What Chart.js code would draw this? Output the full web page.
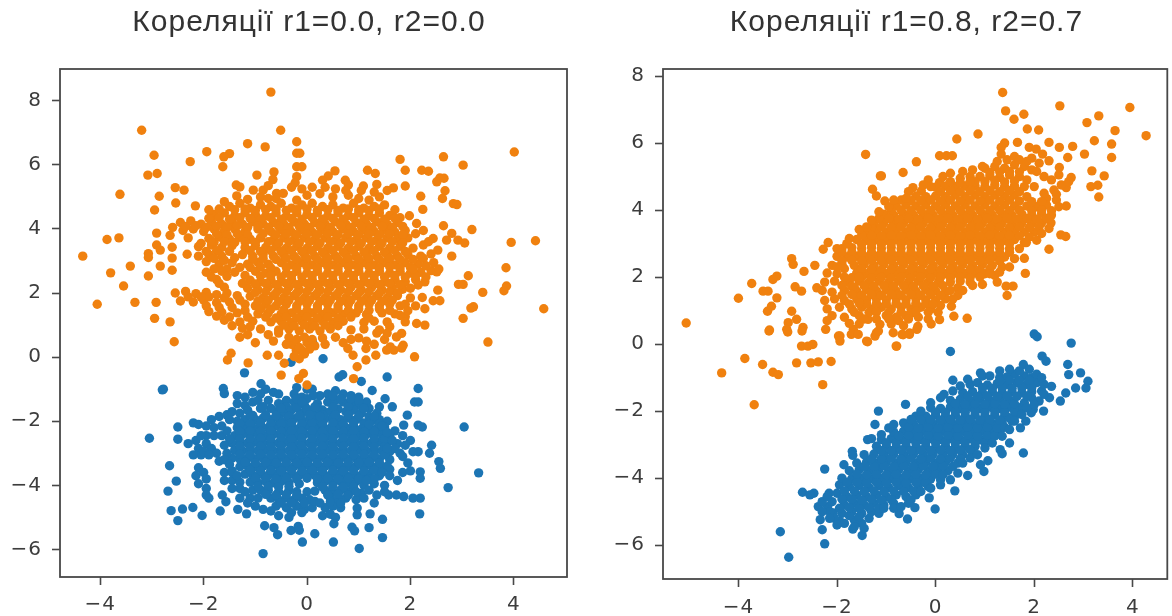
<!DOCTYPE html>
<html><head><meta charset="utf-8">
<script src="https://cdn.jsdelivr.net/npm/chart.js@4"></script>
<style>
html,body{margin:0;padding:0;background:#fff;width:1172px;height:616px;overflow:hidden}
canvas{position:absolute;top:0;filter:blur(0.6px)}
#a{left:0}#b{left:600px}
</style></head><body>
<canvas id="a" width="600" height="616"></canvas>
<canvas id="b" width="572" height="616"></canvas>
<script>
const titleLeft='Кореляції r1=0.0, r2=0.0';
const titleRight='Кореляції r1=0.8, r2=0.7';
const leftOrange=[-0.7,8.27,-3.2,7.08,-0.51,7.08,-1.15,6.66,-0.81,6.56,-0.2,6.72,-2.96,6.3,-1.94,6.41,-2.26,6.1,-1.5,6.35,-1.61,6.25,-1.63,5.94,-2.9,5.73,-3.08,5.68,-0.97,5.68,-0.64,5.78,-0.66,5.54,-3.62,5.08,-2.86,5.02,-2.55,5.29,-2.38,5.21,-2.54,4.81,-2.95,4.59,-2.16,4.72,-1.37,5.37,-1.3,5.31,-1.36,5.03,-1.04,5.21,-0.85,5.21,-0.59,5.11,-0.46,5.11,-3.87,3.67,-3.64,3.72,-4.34,3.15,-3.8,2.63,-3.42,2.84,-3.55,2.22,-4.06,1.65,-3.33,1.71,-2.92,1.71,-2.95,1.21,-2.65,1.1,-3.07,2.53,-3.07,3.23,-3.07,3.11,-2.91,3.87,-2.91,3.5,-2.84,3.34,-2.84,2.84,-2.61,2.71,-2.61,3.43,-2.61,3.09,-2.65,3.8,-2.32,3.21,
-0.2,6.36,-0.14,6.36,-0.2,5.94,-0.1,5.94,-0.2,5.63,-0.23,5.44,0.54,5.81,0.41,5.65,0.3,5.52,0.74,5.52,0.8,5.37,1.17,5.83,1.32,5.73,1.35,5.39,1.09,5.34,1.8,6.17,1.9,5.83,1.67,5.28,1.9,5.34,2.22,5.83,2.35,5.8,2.64,6.25,3.02,5.99,4.01,6.4,2.57,5.59,2.51,5.47,2.65,5.58,2.2,5.02,2.67,5.19,2.62,4.95,2.83,4.79,2.9,4.76,2.24,4.61,1.98,4.41,2.12,4.17,2.64,4.1,3.19,3.98,3.95,3.58,4.42,3.63,3.85,2.79,3.86,2.22,3.81,2.07,3.4,2.02,3.12,2.54,2.93,2.27,3.02,2.27,2.53,2.09,2.23,1.86,2.44,1.76,2.57,1.76,2.28,1.51,3.22,1.57,3.17,1.53,3.02,1.21,4.58,1.51,3.5,0.47,1.9,1.26,2.12,1.05,2.28,1,1.83,0.74,1.73,0.63,1.86,0.37,1.61,0.32,1.35,0.75,2.8,3.15,2.92,3.65,3.05,3.56,2.8,3.86,2.7,3.65,2.44,3.7,2.53,3.34,2.51,2.66,2.28,2.35,
-2.57,0.48,-1.47,0.12,-1.54,-0.09,-1.14,-0.18,-0.77,0.06,-0.55,0.06,-0.44,-0.19,-0.5,-0.56,-0.07,-0.51,-0.16,-0.67,0,-0.87,0.9,-0.67,0.97,-0.3,0.89,0.06,0.79,0.27,1.14,-0.09,1.33,0.06,1.14,0.27,1.54,0.22,1.68,0.22,1.83,0.28,2.08,0.01,-0.21,0.22,-0.11,0.22,-0.3,0.4,0.0,0.45,-0.65,0.5,-0.4,0.4,-1.0,0.45,
-0.9,5,-0.6,4.95,-0.2,4.9,0,5.05,0.25,5.1,0.5,5,0.8,5.05,1,4.95,1.2,4.9,1.4,5,
-1.5,4.7,-1.3,4.8,-1.1,4.65,-0.9,4.75,-0.7,4.7,-0.5,4.8,-0.3,4.65,-0.1,4.75,0.1,4.8,0.3,4.7,0.5,4.75,0.7,4.65,0.9,4.8,1.1,4.65,1.3,4.7,1.5,4.75,1.7,4.6,
-1.8,4.45,-1.6,4.5,-1.4,4.4,-1.2,4.5,-1,4.45,-0.8,4.4,-0.6,4.5,-0.4,4.4,-0.2,4.5,0,4.45,0.2,4.5,0.4,4.4,0.6,4.5,0.8,4.42,1,4.5,1.2,4.4,1.4,4.5,1.6,4.42,1.8,4.35,
-2.45,4.2,-2.25,4.25,-2.05,4.15,-1.85,4.22,-1.65,4.15,-1.45,4.2,-1.25,4.15,-1.05,4.22,-0.85,4.15,-0.65,4.2,-0.45,4.15,-0.25,4.22,-0.05,4.15,0.15,4.2,0.35,4.15,0.55,4.22,0.75,4.15,0.95,4.2,1.15,4.15,1.35,4.22,1.55,4.15,1.75,4.2,
-2.6,4.05,-2.4,3.95,-2.2,4,-2,3.92,-1.8,4,-1.6,3.93,-1.4,4,-1.2,3.92,-0.95,4,-0.7,3.92,-0.5,3.98,-0.3,3.9,-0.1,3.98,0.1,3.9,0.3,3.98,0.5,3.92,0.7,4,0.9,3.92,1.1,3.98,1.3,3.92,1.5,3.98,1.7,3.9,1.9,3.95,
-2.3,3.72,-1.9,3.7,-1.7,3.75,-1.5,3.68,-1.3,3.74,-1.1,3.68,-0.9,3.72,-0.65,3.66,-0.45,3.72,-0.25,3.66,-0.05,3.72,0.15,3.66,0.35,3.72,0.55,3.66,0.75,3.72,0.95,3.66,1.15,3.72,1.35,3.66,1.55,3.72,1.75,3.68,1.95,3.72,
-2.1,3.45,-1.85,3.5,-1.65,3.42,-1.45,3.48,-1.2,3.42,-1,3.48,-0.8,3.42,-0.6,3.46,-0.4,3.4,-0.2,3.46,0,3.4,0.2,3.46,0.4,3.4,0.6,3.46,0.8,3.4,1,3.46,1.2,3.4,1.4,3.46,1.6,3.4,1.8,3.46,2.05,3.4,2.25,3.5,
-1.9,3.2,-1.65,3.15,-1.25,3.2,-1.05,3.15,-0.85,3.2,-0.65,3.15,-0.45,3.2,-0.25,3.15,-0.05,3.2,0.15,3.15,0.35,3.2,0.55,3.15,0.75,3.2,0.95,3.15,1.15,3.2,1.35,3.15,1.55,3.2,1.75,3.15,1.95,3.2,2.2,3.15,2.4,3.22,
-1.95,2.98,-1.7,2.9,-1.45,2.95,-1.15,2.9,-0.95,2.96,-0.75,2.9,-0.5,2.95,-0.3,2.88,-0.1,2.95,0.1,2.88,0.3,2.95,0.5,2.88,0.7,2.95,0.9,2.88,1.1,2.95,1.3,2.88,1.5,2.95,1.7,2.88,1.9,2.95,2.15,2.9,
-1.95,2.65,-1.65,2.68,-1.4,2.65,-1,2.68,-0.8,2.62,-0.6,2.68,-0.4,2.62,-0.2,2.68,0,2.62,0.2,2.68,0.4,2.62,0.6,2.68,0.8,2.62,1,2.68,1.2,2.62,1.4,2.68,1.6,2.62,1.8,2.68,2,2.62,2.2,2.65,2.4,2.7,
-1.75,2.42,-1.1,2.4,-0.9,2.35,-0.7,2.42,-0.5,2.35,-0.3,2.42,-0.1,2.35,0.1,2.42,0.3,2.35,0.5,2.42,0.7,2.35,0.9,2.42,1.1,2.35,1.3,2.42,1.5,2.35,1.7,2.42,1.9,2.35,2.1,2.42,
-1.6,2.18,-1.15,2.15,-0.95,2.1,-0.75,2.18,-0.55,2.1,-0.35,2.18,-0.15,2.1,0.05,2.18,0.25,2.1,0.45,2.18,0.65,2.1,0.85,2.18,1.05,2.1,1.25,2.18,1.45,2.1,1.65,2.18,1.85,2.12,
-2.55,2.0,-2.35,2.05,-2.15,1.98,-1.95,2.02,-1.75,1.95,-1.55,2,-1.35,1.92,-1.1,1.9,-0.85,1.85,-0.65,1.92,-0.45,1.85,-0.25,1.92,-0.05,1.85,0.15,1.92,0.35,1.85,0.55,1.92,0.75,1.85,0.95,1.92,1.15,1.85,1.35,1.92,1.55,1.85,1.75,1.92,
-2.45,1.75,-2.2,1.72,-2,1.78,-1.75,1.7,-1.5,1.72,-1.2,1.65,-1,1.6,-0.8,1.65,-0.6,1.6,-0.4,1.65,-0.2,1.6,0,1.65,0.2,1.6,0.4,1.65,0.6,1.6,0.8,1.65,1,1.6,1.2,1.65,1.4,1.6,1.6,1.65,1.8,1.6,
-1.9,1.42,-1.65,1.4,-1.35,1.38,-0.95,1.35,-0.75,1.38,-0.5,1.35,-0.3,1.38,-0.1,1.33,0.1,1.38,0.3,1.33,0.5,1.38,0.7,1.33,0.95,1.38,1.15,1.33,1.45,1.38,1.7,1.35,
-1.6,1.15,-1.3,1.1,-1.05,1.12,-0.7,1.1,-0.5,1.12,-0.3,1.08,-0.1,1.12,0.1,1.08,0.3,1.12,0.5,1.08,0.7,1.12,1.1,1.08,1.3,1.12,1.55,1.1,
-1.25,0.9,-0.9,0.88,-0.55,0.85,-0.35,0.88,-0.15,0.82,0.05,0.88,0.25,0.82,0.45,0.88,0.85,0.85,1.1,0.88,
-0.35,0.62,-0.2,0.55,-0.05,0.62,0.1,0.55,0.3,0.6,0.55,0.62,1,0.6];
const leftOrangeFill=[-1.4,4.6,-1.2,4.62,-1,4.58,-0.8,4.6,-0.6,4.62,-0.4,4.58,-0.2,4.6,0,4.62,0.2,4.58,0.4,4.6,0.6,4.58,0.8,4.62,1,4.6,1.2,4.58,1.4,4.62,
-1.9,4.33,-1.7,4.35,-1.5,4.3,-1.3,4.35,-1.1,4.33,-0.9,4.3,-0.7,4.35,-0.5,4.3,-0.3,4.33,-0.1,4.3,0.1,4.35,0.3,4.3,0.5,4.33,0.7,4.3,0.9,4.35,1.1,4.3,1.3,4.33,1.5,4.3,1.7,4.33,
-2.35,4.08,-2.15,4.1,-1.95,4.05,-1.75,4.08,-1.55,4.05,-1.35,4.1,-1.15,4.05,-0.95,4.1,-0.75,4.05,-0.55,4.08,-0.35,4.05,-0.15,4.08,0.05,4.05,0.25,4.08,0.45,4.05,0.65,4.1,0.85,4.05,1.05,4.08,1.25,4.05,1.45,4.08,1.65,4.05,1.85,4.08,
-1.75,3.85,-1.55,3.82,-1.35,3.85,-1.15,3.82,-0.85,3.85,-0.6,3.82,-0.4,3.85,-0.2,3.82,0,3.85,0.2,3.82,0.4,3.85,0.6,3.82,0.8,3.85,1,3.82,1.2,3.85,1.4,3.82,1.6,3.85,1.85,3.82,
-1.8,3.58,-1.6,3.6,-1.4,3.58,-1.2,3.6,-1,3.58,-0.75,3.6,-0.55,3.56,-0.35,3.6,-0.15,3.56,0.05,3.6,0.25,3.56,0.45,3.6,0.65,3.56,0.85,3.6,1.05,3.56,1.25,3.6,1.45,3.56,1.65,3.6,1.85,3.56,
-1.75,3.32,-1.1,3.32,-0.9,3.3,-0.7,3.32,-0.5,3.3,-0.3,3.32,-0.1,3.3,0.1,3.32,0.3,3.28,0.5,3.32,0.7,3.28,0.9,3.32,1.1,3.28,1.3,3.32,1.5,3.28,1.7,3.32,1.9,3.3,
-1.05,3.05,-0.85,3.08,-0.6,3.05,-0.4,3.08,-0.2,3.05,0,3.08,0.2,3.05,0.4,3.08,0.6,3.05,0.8,3.08,1,3.05,1.2,3.08,1.4,3.05,1.6,3.08,1.8,3.05,2.05,3.05,
-1.1,2.8,-0.9,2.82,-0.7,2.78,-0.4,2.8,-0.2,2.78,0,2.82,0.2,2.78,0.4,2.82,0.6,2.78,0.8,2.82,1,2.78,1.2,2.82,1.4,2.78,1.6,2.82,1.8,2.78,2,2.8,
-0.9,2.53,-0.7,2.55,-0.5,2.5,-0.3,2.55,-0.1,2.5,0.1,2.55,0.3,2.5,0.5,2.55,0.7,2.5,0.9,2.55,1.1,2.5,1.3,2.55,1.5,2.5,1.7,2.55,1.9,2.5,2.1,2.55,
-1,2.28,-0.8,2.3,-0.6,2.26,-0.4,2.3,-0.2,2.26,0,2.3,0.2,2.26,0.4,2.3,0.6,2.26,0.8,2.3,1,2.26,1.2,2.3,1.4,2.26,1.6,2.3,1.8,2.26,
-1,2.02,-0.8,2.04,-0.6,2,-0.4,2.04,-0.2,2,0,2.04,0.2,2,0.4,2.04,0.6,2,0.8,2.04,1,2,1.2,2.04,1.4,2,1.6,2.04,1.75,2,
-0.95,1.75,-0.75,1.78,-0.55,1.74,-0.35,1.78,-0.15,1.74,0.05,1.78,0.25,1.74,0.45,1.78,0.65,1.74,0.85,1.78,1.05,1.74,1.25,1.78,1.45,1.74,1.65,1.78,
-0.9,1.5,-0.7,1.5,-0.45,1.48,-0.2,1.5,0,1.46,0.2,1.5,0.4,1.46,0.6,1.5,0.8,1.46,1,1.5,1.2,1.46,1.4,1.5,1.6,1.46,
-0.8,1.25,-0.6,1.22,-0.4,1.25,-0.2,1.22,0,1.25,0.2,1.22,0.4,1.25,0.6,1.22,0.85,1.25,1.2,1.22,
-0.45,1,-0.25,0.98,-0.05,1,0.15,0.98,0.35,1,0.6,0.98];
const leftOrangeExtra=[-2.05,3.55,-1.85,3.62,-1.95,3.3,-2.1,3.15,-1.5,3.3,-1.4,3.1,-1.6,3.02,-1.8,3.08,-1.55,2.75,-1.3,2.8,-1.8,2.75,-1.2,2.55,-1.55,2.52,-1.85,2.5,-1.7,2.3,-1.25,2.3,-1.9,1.88,-2.3,1.88,-2.05,1.88,-1.6,1.85,-1.3,1.78,-1.95,1.6,-1.7,1.55,-1.45,1.55,-1.2,1.45,-1.75,1.28,-1.5,1.25,-1.15,1.25,-1.45,0.98,-1.1,0.95,-1.7,4.62,-1.9,4.6,-1.6,4.85,-1.15,4.92,-0.75,4.95,
2.1,3.85,2.25,3.95,2.35,3.6,2.25,3.08,2.45,2.95,2.3,2.85,2.05,2.75,2.55,2.75,2.3,2.5,2.15,2.25,2,2.15,2,1.85,1.9,1.65,1.95,1.45,2.1,1.6,1.8,1.3,1.9,1.1,1.6,0.95,1.4,0.85,
0.1,5.3,0.35,5.3,0.55,5.25,0.75,5.2,1.05,5.2,1.3,5.15,1.55,5.2,-0.3,5.3,-0.1,5.25,-0.75,5.35,
0.15,0.35,0.35,0.4,-0.15,0.3,0.7,0.45,0.85,0.55,1.15,0.5,1.3,0.4,1.5,0.55,1.55,0.75,-0.55,0.75,-0.75,0.7,-1.15,0.7,-1.3,0.62,-0.05,0.1,-0.15,-0.05,-0.25,0.02,0.05,0.25];
const leftBlue=[-3.05,-2.53,-2.78,-1,-2.8,-1.02,-1.21,-0.49,-0.31,-0.16,0.31,-0.05,0.11,0.45,-0.89,-0.83,0.62,-0.62,0.69,-0.55,1.05,-0.76,1.55,-0.62,2.15,-0.98,2.08,-1.4,2.15,-1.4,1.26,-1.04,-1.62,-0.98,-1.6,-1.14,-2.5,-2.18,-2.5,-2.56,-2.66,-3.39,-2.53,-3.87,-2.69,-4.18,-2.63,-4.79,-2.41,-4.74,-2.21,-4.69,-2.5,-5.1,-2.03,-4.94,-1.68,-4.8,-1.34,-4.75,-1.17,-4.89,-1.64,-4.3,-1.57,-4.51,-0.82,-5.26,-0.64,-5.32,-0.57,-5.54,-0.31,-5.41,-0.17,-5.28,-0.15,-5.4,-0.09,-5.77,0.15,-5.51,0.51,-5.77,-0.85,-6.13,1.01,-5.97,0.87,-5.31,0.92,-5.42,1.2,-5.32,1.46,-5.63,1.46,-5.06,1.22,-4.89,0.97,-4.71,0.97,-4.92,2.18,-4.89,3.04,-2.18,3.32,-3.61,2.73,-4.07,2.41,-2.75,2.55,-3.26,2.58,-3.47,2.15,-2.12,2.23,-2.18,1.94,-1.81,1.87,-2.12,2.19,-3.58,2.19,-3.78,2.19,-4.4,2.05,-4.4,1.87,-4.35,1.73,-4.3,1.58,-4.3,2.37,-3,2.15,-2.95,1.51,-1.3,1.65,-1.55,1.4,-1.55,
-2.2,-2.05,-2.1,-2.1,-1.95,-2.15,-1.85,-1.95,-1.8,-2.2,-1.7,-1.85,-1.55,-1.8,-1.65,-2.15,-2.3,-2.7,-2.15,-2.6,-2.1,-2.85,-1.95,-2.7,-1.85,-2.85,-2.05,-3.05,-2.2,-3.05,-1.75,-3,-1.7,-3.25,-1.65,-2.45,-2.1,-3.45,-2.15,-3.7,-2,-3.6,-2.1,-3.95,-1.95,-3.8,-1.95,-4.1,-1.95,-4.3,-1.9,-4.4,-1.6,-3.85,-1.45,-3.85,-1.3,-3.9,-1.6,-3.6,-1.45,-3.6,-1.3,-4.4,-1.1,-4.4,
-0.8,-1,-0.65,-1.1,-0.55,-1.15,-0.4,-1.35,-0.2,-0.95,0,-1,0.1,-1,0.25,-1.2,0.4,-1.15,0.55,-1.05,0.7,-1.15,0.85,-1.2,1,-1.25,1.15,-1.4,-1.35,-1.2,-1.2,-1.25,-1.05,-1.1,-0.25,-1.15,-0.1,-1.25,-1.35,-1.45,-1.2,-1.5,-1.05,-1.4,-0.75,-1.35,-0.55,-1.45,-0.4,-1.55,-0.25,-1.4,-0.05,-1.5,0.2,-1.45,0.4,-1.4,0.55,-1.35,0.7,-1.4,0.85,-1.45,1,-1.5,1.2,-1.6,-1.45,-1.7,-1.3,-1.75,-1.15,-1.65,-0.6,-1.7,-0.45,-1.75,-0.3,-1.65,-0.1,-1.75,0.15,-1.72,0.3,-1.65,0.45,-1.7,0.6,-1.62,0.75,-1.7,0.9,-1.65,1.05,-1.75,1.2,-1.85,1.35,-1.75,
-1.5,-1.95,-1.35,-2,-1.2,-1.95,-1,-1.95,-0.85,-1.9,-0.7,-1.95,-0.55,-1.92,-0.4,-2,-0.25,-1.92,-0.1,-1.98,0.05,-1.92,0.2,-1.98,0.35,-1.92,0.5,-1.9,0.65,-1.95,0.8,-1.9,0.95,-1.95,1.1,-2.05,1.25,-1.98,1.4,-1.95,1.55,-2.0,
-1.35,-2.2,-1.2,-2.18,-1.05,-2.2,-0.9,-2.15,-0.75,-2.2,-0.6,-2.15,-0.45,-2.22,-0.3,-2.15,-0.15,-2.22,0,-2.15,0.15,-2.22,0.3,-2.15,0.45,-2.22,0.6,-2.15,0.75,-2.2,0.9,-2.15,1.05,-2.25,1.2,-2.2,1.35,-2.22,1.5,-2.18,1.7,-2.3,
-1.4,-2.45,-1.25,-2.4,-1.1,-2.45,-0.95,-2.4,-0.8,-2.45,-0.65,-2.4,-0.5,-2.45,-0.35,-2.4,-0.2,-2.45,-0.05,-2.4,0.1,-2.45,0.25,-2.4,0.4,-2.45,0.55,-2.4,0.7,-2.45,0.85,-2.4,1,-2.45,1.15,-2.4,1.3,-2.45,1.45,-2.4,1.6,-2.45,1.85,-2.45,2,-2.6,
-1.45,-2.68,-1.3,-2.65,-1.15,-2.68,-1,-2.65,-0.85,-2.68,-0.7,-2.65,-0.55,-2.68,-0.4,-2.65,-0.25,-2.68,-0.1,-2.65,0.05,-2.68,0.2,-2.65,0.35,-2.68,0.5,-2.65,0.65,-2.68,0.8,-2.65,0.95,-2.68,1.1,-2.65,1.25,-2.68,1.4,-2.65,1.55,-2.68,1.75,-2.7,
-1.4,-2.9,-1.25,-2.92,-1.1,-2.9,-0.95,-2.92,-0.8,-2.9,-0.65,-2.92,-0.5,-2.9,-0.35,-2.92,-0.2,-2.9,-0.05,-2.92,0.1,-2.9,0.25,-2.92,0.4,-2.9,0.55,-2.92,0.7,-2.9,0.85,-2.92,1,-2.9,1.15,-2.92,1.3,-2.9,1.45,-2.92,1.6,-2.95,1.8,-3,
-1.45,-3.15,-1.3,-3.18,-1.15,-3.15,-1,-3.18,-0.85,-3.15,-0.7,-3.18,-0.55,-3.15,-0.4,-3.18,-0.25,-3.15,-0.1,-3.18,0.05,-3.15,0.2,-3.18,0.35,-3.15,0.5,-3.18,0.65,-3.15,0.8,-3.18,0.95,-3.15,1.1,-3.18,1.25,-3.15,1.4,-3.18,1.6,-3.2,
-1.3,-3.42,-1.15,-3.4,-1,-3.42,-0.85,-3.4,-0.7,-3.42,-0.55,-3.4,-0.4,-3.42,-0.25,-3.4,-0.1,-3.42,0.05,-3.4,0.2,-3.42,0.35,-3.4,0.5,-3.42,0.65,-3.4,0.8,-3.42,0.95,-3.4,1.1,-3.42,1.25,-3.4,1.4,-3.42,1.6,-3.5,1.85,-3.6,2,-3.55,
-1.2,-3.65,-1.05,-3.68,-0.9,-3.65,-0.75,-3.68,-0.6,-3.65,-0.45,-3.68,-0.3,-3.65,-0.15,-3.68,0,-3.65,0.15,-3.68,0.3,-3.65,0.45,-3.68,0.6,-3.65,0.75,-3.68,0.9,-3.65,1.05,-3.68,1.2,-3.65,1.4,-3.7,1.6,-3.7,
-1.1,-3.9,-0.95,-3.92,-0.8,-3.88,-0.65,-3.92,-0.5,-3.88,-0.35,-3.92,-0.15,-3.95,0.2,-3.92,0.35,-3.88,0.5,-3.92,0.65,-3.88,0.8,-3.92,0.95,-3.88,1.1,-4,1.3,-3.95,1.5,-4,
-1.05,-4.15,-0.9,-4.15,-0.75,-4.15,-0.55,-4.2,-0.35,-4.15,-0.2,-4.2,0,-4.2,0.15,-4.18,0.35,-4.15,0.5,-4.2,0.65,-4.15,0.8,-4.2,1.05,-4.25,1.35,-4.3,
-0.95,-4.4,-0.7,-4.4,-0.55,-4.45,-0.4,-4.4,-0.25,-4.45,-0.1,-4.4,0.05,-4.45,0.45,-4.4,0.6,-4.45,0.75,-4.4,0.95,-4.45,1.3,-4.55,-0.6,-4.65,-0.4,-4.7,-0.2,-4.65,-0.05,-4.75,0.1,-4.7,0.35,-4.7,0.5,-4.65,0.65,-4.7,0.3,-4.95,0.45,-4.9,0.55,-5,0.52,-5.2,-0.3,-4.85,-0.1,-4.85];
const leftBlueFill=[-0.9,-1.6,-0.7,-1.6,-0.5,-1.6,-0.2,-1.58,0,-1.62,0.2,-1.58,0.5,-1.55,0.8,-1.55,1.1,-1.6,
-1.05,-1.82,-0.8,-1.8,-0.6,-1.82,-0.35,-1.85,-0.15,-1.82,0.1,-1.82,0.3,-1.8,0.55,-1.8,0.8,-1.8,1,-1.85,1.3,-1.85,
-1.3,-2.08,-1.1,-2.08,-0.9,-2.05,-0.7,-2.08,-0.5,-2.08,-0.3,-2.05,-0.1,-2.08,0.1,-2.05,0.3,-2.08,0.5,-2.05,0.7,-2.08,0.9,-2.05,1.2,-2.1,1.4,-2.08,
-1.3,-2.32,-1.1,-2.3,-0.9,-2.32,-0.7,-2.3,-0.5,-2.32,-0.3,-2.3,-0.1,-2.32,0.1,-2.3,0.3,-2.32,0.5,-2.3,0.7,-2.32,0.9,-2.3,1.1,-2.33,1.3,-2.32,1.5,-2.3,
-1.3,-2.55,-1.1,-2.55,-0.9,-2.53,-0.7,-2.55,-0.5,-2.53,-0.3,-2.55,-0.1,-2.53,0.1,-2.55,0.3,-2.53,0.5,-2.55,0.7,-2.53,0.9,-2.55,1.1,-2.53,1.3,-2.55,1.5,-2.55,
-1.3,-2.78,-1.1,-2.8,-0.9,-2.78,-0.7,-2.8,-0.5,-2.78,-0.3,-2.8,-0.1,-2.78,0.1,-2.8,0.3,-2.78,0.5,-2.8,0.7,-2.78,0.9,-2.8,1.1,-2.78,1.3,-2.8,1.5,-2.8,
-1.3,-3.03,-1.1,-3.05,-0.9,-3.03,-0.7,-3.05,-0.5,-3.03,-0.3,-3.05,-0.1,-3.03,0.1,-3.05,0.3,-3.03,0.5,-3.05,0.7,-3.03,0.9,-3.05,1.1,-3.03,1.3,-3.05,1.5,-3.05,
-1.2,-3.28,-1,-3.3,-0.8,-3.28,-0.6,-3.3,-0.4,-3.28,-0.2,-3.3,0,-3.28,0.2,-3.3,0.4,-3.28,0.6,-3.3,0.8,-3.28,1,-3.3,1.2,-3.28,1.4,-3.3,
-1.1,-3.53,-0.9,-3.55,-0.7,-3.53,-0.5,-3.55,-0.3,-3.53,-0.1,-3.55,0.1,-3.53,0.3,-3.55,0.5,-3.53,0.7,-3.55,0.9,-3.53,1.1,-3.55,1.3,-3.53,
-1,-3.78,-0.8,-3.78,-0.6,-3.8,-0.4,-3.78,-0.2,-3.8,0,-3.78,0.2,-3.8,0.4,-3.78,0.6,-3.8,0.8,-3.78,1,-3.8,1.2,-3.8,
-0.95,-4.03,-0.75,-4.03,-0.55,-4.05,-0.35,-4.03,0.3,-4.05,0.5,-4.03,0.7,-4.05,0.9,-4.05,
-0.8,-4.28,-0.6,-4.3,-0.4,-4.28,-0.2,-4.3,0.4,-4.3,0.6,-4.28,0.8,-4.3,-0.5,-4.55,-0.3,-4.55,0.45,-4.52,0.65,-4.55];
const leftBlueExtra=[-1.55,-2.3,-1.5,-2.55,-1.6,-2.75,-1.55,-3,-1.6,-3.2,-1.5,-3.35,-1.45,-3.55,-1.35,-3.7,-1.3,-4.1,-1.2,-4.2,-1.45,-4.1,-1.15,-4.55,-1,-4.65,-0.85,-4.75,-0.7,-4.8,-0.55,-4.95,-0.35,-5,-1.8,-2.45,-1.95,-2.45,-2.05,-2.45,-2,-2.95,-1.9,-3.05,-0.9,-1.15,-0.95,-1.35,-0.85,-1.55,-1.1,-1.8,
0.12,-1.2,0,-1.3,0.15,-1.55,0.25,-1.85,0.05,-1.8,-0.2,-1.3,0.5,-1.2,0.65,-1.3,0.85,-1.3,1,-1.35,-0.1,-1.4,1.45,-2.15,1.55,-2.35,1.65,-2.6,1.7,-2.85,1.55,-2.85,1.55,-3.4,1.45,-3.6,1.3,-3.8,1.15,-3.85,0.15,-4.5,0.25,-4.55,-0.05,-4.55,0.95,-4.2,1.1,-4.4,1.2,-4.15,1.5,-4.2,1.75,-3.85,1.95,-3.3,1.85,-3.1,1.9,-2.75,2.05,-2.95];
const rightOrange=[-5.06,0.63,-4,1.37,-3.73,1.81,-3.22,2.03,-3.3,1.93,-3.4,1.58,-3.5,1.58,-3.22,1.38,-3.33,1.13,-3.41,0.98,-3.37,0.42,-2.92,2.55,-2.89,2.38,-2.67,2.17,-2.45,2.35,-2.85,1.71,-2.72,1.58,-2.92,0.98,-2.99,0.64,-3.02,0.44,-2.82,0.74,-2.69,0.5,-2.72,-0.06,-2.59,-0.06,-2.49,-0.01,-1.42,5.66,-1.12,5.02,-1.28,4.62,-1.2,4.42,-1.03,4.27,-2.18,3.03,-2.28,2.83,-2.41,1.68,-1.94,0.24,-1.67,0.44,-1.4,0.09,-1.2,0.34,-1.13,0.59,-1.37,0.74,
-4.34,-0.86,-3.87,-0.43,-3.51,-0.61,-3.3,-0.84,-3.19,-0.91,-3.68,-1.81,-2.82,-0.56,-2.53,-0.56,-2.38,-0.53,-2.12,-0.52,-2.29,-1.21,-3.38,0.39,-3,0.36,-2.71,0.39,-2.23,0.44,-1.97,0.24,-1.94,0.09,-1.71,0.29,-1.57,0.29,-1.38,0.07,-1.23,0.24,-1.16,0.39,-0.79,-0.06,-0.86,0.34,-0.68,0.29,-0.53,0.29,-0.38,0.44,
1.36,7.51,1.42,6.96,1.59,6.71,1.79,6.86,2.52,7.11,1.86,6.42,2.09,6.39,3.07,6.61,3.31,6.81,3.94,7.06,3.64,6.37,4.27,6.22,3.22,6.07,3.57,5.97,3.57,5.57,3.02,5.67,2.78,5.9,3.17,5.17,3.42,5.02,3.15,4.7,3.29,4.74,3.31,4.39,2.3,2.83,2.54,3.26,2.64,3.21,1.82,2.11,1.8,2.56,1.8,3.03,1.43,1.73,1.57,1.73,1.45,1.45,0.64,0.77,0.37,0.83,0.32,1.13,0.45,1.68,0.08,1.93,0.08,0.73,-0.09,0.6,-0.36,0.53,-0.53,0.33,-0.66,0.28,-0.8,-0.06,0.43,6.12,0.86,6.27,-0.39,5.44,-0.66,5.12,-1.1,5.02,0.08,5.62,0.22,5.62,0.34,5.62,1.4,6,1.33,5.87,1.66,6.02,1.33,5.67,-0.15,4.9,0.08,4.82,-0.46,4.67,-0.29,4.57,1.9,5.87,2.04,5.82,2.17,5.67,2.3,5.47,2.51,5.27,2.3,6.02,2.51,5.87,2.68,5.57,2.75,4.97,2.65,4.67,2.45,4.47,2.65,4.12,2.34,3.62,1.84,3.03,
1.6,5.6,1.95,5.55,2.1,5.4,1.0,5.25,1.2,5.3,1.4,5.25,1.6,5.35,1.8,5.3,1.95,5.2,0.5,4.95,0.7,5,0.9,5,1.1,5.02,1.3,4.98,1.5,5.05,1.7,5,1.85,4.9,2.7,4.85,2.55,4.75,
0,4.68,0.2,4.72,0.4,4.7,0.6,4.72,0.8,4.72,1,4.7,1.2,4.75,1.4,4.7,1.6,4.72,1.8,4.7,2,4.7,2.4,4.6,
-0.4,4.42,-0.2,4.4,0,4.42,0.2,4.4,0.4,4.45,0.6,4.4,0.8,4.45,1,4.4,1.2,4.45,1.4,4.42,1.6,4.45,1.85,4.4,2.25,4.35,2.45,4.3,
-0.8,4.12,-0.6,4.15,-0.4,4.12,-0.2,4.15,0,4.12,0.2,4.15,0.4,4.12,0.6,4.15,0.8,4.12,1,4.15,1.2,4.12,1.4,4.15,1.6,4.12,1.85,4.12,2.05,4.1,2.25,4.15,2.5,4.1,
-1.05,3.88,-0.85,3.85,-0.65,3.88,-0.45,3.85,-0.25,3.88,-0.05,3.85,0.15,3.88,0.35,3.85,0.55,3.88,0.75,3.85,0.95,3.88,1.15,3.85,1.35,3.88,1.55,3.85,1.75,3.88,1.95,3.85,2.15,3.9,2.35,3.85,
-1.25,3.6,-1.05,3.62,-0.85,3.6,-0.65,3.62,-0.45,3.6,-0.25,3.62,-0.05,3.6,0.15,3.62,0.35,3.6,0.55,3.62,0.75,3.6,0.95,3.62,1.15,3.6,1.35,3.62,1.55,3.6,1.75,3.62,1.95,3.6,2.15,3.62,
-1.4,3.35,-1.2,3.38,-1,3.35,-0.8,3.38,-0.6,3.35,-0.4,3.38,-0.2,3.35,0,3.38,0.2,3.35,0.4,3.38,0.6,3.35,0.8,3.38,1,3.35,1.2,3.38,1.4,3.35,1.6,3.38,1.8,3.35,2,3.35,
-1.6,3.12,-1.4,3.1,-1.2,3.12,-1,3.1,-0.8,3.12,-0.6,3.1,-0.4,3.12,-0.2,3.1,0,3.12,0.2,3.1,0.4,3.12,0.6,3.1,0.8,3.12,1,3.1,1.2,3.12,1.4,3.1,1.6,3.12,
-1.9,2.85,-1.7,2.88,-1.5,2.85,-1.3,2.88,-1.1,2.85,-0.9,2.88,-0.7,2.85,-0.5,2.88,-0.3,2.85,-0.1,2.88,0.1,2.85,0.3,2.88,0.5,2.85,0.7,2.88,0.9,2.85,1.1,2.88,1.3,2.85,1.5,2.85,
-2,2.62,-1.8,2.6,-1.6,2.62,-1.4,2.6,-1.2,2.62,-1,2.6,-0.8,2.62,-0.6,2.6,-0.4,2.62,-0.2,2.6,0,2.62,0.2,2.6,0.4,2.62,0.6,2.6,0.8,2.62,1,2.6,1.2,2.62,1.4,2.6,
-2.1,2.35,-1.9,2.38,-1.65,2.35,-1.45,2.38,-1.25,2.35,-1.05,2.38,-0.85,2.35,-0.65,2.38,-0.45,2.35,-0.25,2.38,-0.05,2.35,0.15,2.38,0.35,2.35,0.55,2.38,0.75,2.35,0.95,2.38,1.15,2.35,1.35,2.3,
-2.2,2.12,-2,2.1,-1.6,2.12,-1.4,2.1,-1.2,2.12,-1,2.1,-0.8,2.12,-0.6,2.1,-0.4,2.12,-0.2,2.1,0,2.12,0.2,2.1,0.4,2.12,0.6,2.1,0.8,2.12,1,2.1,1.2,2.05,
-2.25,1.85,-2.05,1.88,-1.8,1.85,-1.55,1.88,-1.35,1.85,-1.15,1.88,-0.95,1.85,-0.75,1.88,-0.55,1.85,-0.35,1.88,-0.15,1.85,0.05,1.82,0.3,1.85,0.5,1.88,0.7,1.85,
-2.3,1.6,-2.1,1.55,-1.85,1.6,-1.6,1.58,-1.4,1.62,-1.2,1.58,-1,1.62,-0.8,1.58,-0.6,1.62,-0.4,1.58,-0.2,1.62,0,1.58,0.2,1.55,0.45,1.45,
-2.25,1.3,-2.05,1.35,-1.85,1.3,-1.6,1.35,-1.4,1.32,-1.2,1.35,-1,1.32,-0.8,1.35,-0.6,1.32,-0.4,1.35,-0.2,1.32,0,1.3,0.2,1.35,
-2.2,1.05,-1.95,1.1,-1.7,1.05,-1.5,1.1,-1.3,1.05,-1.1,1.1,-0.9,1.05,-0.7,1.1,-0.5,1.05,-0.3,1.1,-0.1,1.05,
-2.1,0.85,-1.85,0.8,-1.55,0.85,-1.35,0.95,-1,0.85,-0.8,0.8,-0.6,0.85,-0.35,0.8,-2.2,0.7,-1.75,0.62,-1.55,0.6,-0.9,0.6,-0.65,0.55];
const rightOrangeFill=[1.1,5.12,1.3,5.14,1.5,5.15,1.7,5.14,0.8,4.85,1,4.85,1.2,4.88,1.4,4.84,1.6,4.87,0.3,4.85,0.5,4.82,0.7,4.85,
0.1,4.55,0.3,4.58,0.5,4.55,0.7,4.58,0.9,4.55,1.1,4.58,1.3,4.55,1.5,4.58,1.7,4.55,
-0.5,4.28,-0.3,4.28,-0.1,4.3,0.1,4.27,0.3,4.3,0.5,4.27,0.7,4.3,0.9,4.27,1.1,4.3,1.3,4.27,1.5,4.3,1.7,4.27,1.95,4.25,2.15,4.25,
-0.9,4,-0.7,4,-0.5,3.98,-0.3,4,-0.1,3.98,0.1,4,0.3,3.98,0.5,4,0.7,3.98,0.9,4,1.1,3.98,1.3,4,1.5,3.98,1.7,4,1.95,3.98,2.15,4,2.35,3.98,
-1.15,3.75,-0.95,3.75,-0.75,3.73,-0.55,3.75,-0.35,3.73,-0.15,3.75,0.05,3.73,0.25,3.75,0.45,3.73,0.65,3.75,0.85,3.73,1.05,3.75,1.25,3.73,1.45,3.75,1.65,3.73,1.85,3.75,2.05,3.73,2.25,3.75,
-1.3,3.48,-1.1,3.5,-0.9,3.48,-0.7,3.5,-0.5,3.48,-0.3,3.5,-0.1,3.48,0.1,3.5,0.3,3.48,0.5,3.5,0.7,3.48,0.9,3.5,1.1,3.48,1.3,3.5,1.5,3.48,1.7,3.5,1.9,3.48,2.1,3.5,
-1.5,3.25,-1.3,3.25,-1.1,3.23,-0.9,3.25,-0.7,3.23,-0.5,3.25,-0.3,3.23,-0.1,3.25,0.1,3.23,0.3,3.25,0.5,3.23,0.7,3.25,0.9,3.23,1.1,3.25,1.3,3.23,1.5,3.25,1.7,3.23,1.9,3.2,
-1.8,3,-1.5,2.98,-1.3,3,-1.1,2.98,-0.9,3,-0.7,2.98,-0.5,3,-0.3,2.98,-0.1,3,0.1,2.98,0.3,3,0.5,2.98,0.7,3,0.9,2.98,1.1,3,1.3,2.98,1.5,3,
-1.9,2.74,-1.7,2.74,-1.5,2.72,-1.3,2.74,-1.1,2.72,-0.9,2.74,-0.7,2.72,-0.5,2.74,-0.3,2.72,-0.1,2.74,0.1,2.72,0.3,2.74,0.5,2.72,0.7,2.74,0.9,2.72,1.1,2.74,1.3,2.72,1.5,2.74,
-1.9,2.48,-1.7,2.5,-1.5,2.48,-1.3,2.5,-1.1,2.48,-0.9,2.5,-0.7,2.48,-0.5,2.5,-0.3,2.48,-0.1,2.5,0.1,2.48,0.3,2.5,0.5,2.48,0.7,2.5,0.9,2.48,1.1,2.5,1.3,2.48,
-1.5,2.24,-1.3,2.24,-1.1,2.22,-0.9,2.24,-0.7,2.22,-0.5,2.24,-0.3,2.22,-0.1,2.24,0.1,2.22,0.3,2.24,0.5,2.22,0.7,2.24,0.9,2.22,1.1,2.24,
-1.7,1.98,-1.5,2,-1.3,1.98,-1.1,2,-0.9,1.98,-0.7,2,-0.5,1.98,-0.3,2,-0.1,1.98,0.1,2,0.3,1.98,0.5,2,0.7,1.98,0.9,2,
-1.7,1.72,-1.45,1.74,-1.25,1.72,-1.05,1.74,-0.85,1.72,-0.65,1.74,-0.45,1.72,-0.25,1.74,-0.05,1.72,0.15,1.74,
-1.5,1.46,-1.3,1.48,-1.1,1.46,-0.9,1.48,-0.7,1.46,-0.5,1.48,-0.3,1.46,-0.1,1.48,0.1,1.46,
-1.4,1.2,-1.2,1.22,-1,1.2,-0.8,1.22,-0.6,1.2,-0.4,1.22,-0.2,1.2,-1.2,0.96,-0.95,0.95,-0.7,0.95,-0.5,0.92];
const rightOrangeExtra=[-2,2.85,-1.75,3.15,-1.55,3.42,-1.4,3.5,-1.3,3.7,-1.15,3.95,-0.95,4.1,-0.7,4.3,-0.55,4.55,-1.85,2.25,-2,2.3,-1.85,2,-1.55,2,-1.9,1.75,-1.65,1.7,-1.7,1.48,-1.9,1.45,-1.75,1.2,-1.55,1.22,-1.65,0.95,-1.45,0.75,-1.2,0.75,-0.95,0.75,-0.75,0.7,-0.55,0.75,-0.4,0.98,-0.15,0.95,-0.15,0.75,0.1,1.15,-0.05,1.2,0.05,0.95,0.35,1.35,0.55,1.6,0.3,1.6,0.75,1.75,0.95,1.78,1.1,2.1,1.3,2.15,1.25,1.85,1.5,2.3,1.6,2.55,1.7,2.85,2.05,3.1,2.15,3.3,2.3,3.45,
0.15,5,0.3,5.1,0.55,5.15,0.75,5.2,0.95,5.3,1.25,5.45,1.45,5.5,1.7,5.5,1.85,5.45,2.05,5.15,2.2,5,2.35,4.9,2.5,5.05,2.2,4.5,-0.1,4.7,-0.25,4.75,-0.6,4.35,-0.85,4.3];
const rightBlue=[2,0.3,2.06,0.22,2.75,0.03,0.3,-0.22,2.16,-0.36,2.24,-0.51,2.68,-0.61,2.7,-0.91,2.94,-0.86,3.09,-1.11,3.05,-1.31,2.84,-1.31,2.64,-1.46,2.53,-1.7,2.19,-2,2.35,-1.26,2.31,-1.6,0.35,-1.08,0.91,-0.86,1.78,-0.61,-1.16,-2,-0.61,-1.8,-1.23,-2.4,0.17,-1.5,-1.38,-2.85,-1.3,-2.82,-1.69,-3.2,-1.68,-3.32,-2.25,-3.73,-1.86,-3.6,-2.7,-4.42,-2.47,-4.45,-2.55,-4.5,-2.38,-4.85,-2.16,-4.45,-2.34,-5.24,-2.3,-5.54,-2.25,-5.96,-3.15,-5.6,-2.98,-6.36,-1.49,-5.71,-1.68,-5.52,-1.94,-5.29,-2.08,-5.04,-2.19,-4.85,-0.74,-5.06,-0.57,-5.22,-0.42,-4.88,-0.01,-4.92,-0.13,-4.59,0.39,-4.38,0.65,-3.92,0.98,-3.8,0.91,-3.6,1.06,-3.48,1.35,-3.27,1.31,-3.15,1.5,-2.95,1.78,-3.25,1.72,-2.5,1.83,-2.3,1.98,-1.95,1.94,-2.05,
-2.05,-5.2,-1.85,-5.35,-1.65,-5.25,-1.5,-5.35,-1.35,-5.2,-2.15,-5,-1.9,-5.05,-1.7,-5,-1.5,-5.05,-1.3,-5,-1.15,-5.05,-2.1,-4.7,-1.85,-4.8,-1.65,-4.75,-1.45,-4.8,-1.25,-4.75,-1.05,-4.8,-0.85,-4.75,-0.55,-4.75,-2,-4.45,-1.8,-4.55,-1.6,-4.5,-1.4,-4.55,-1.2,-4.5,-1,-4.55,-0.8,-4.5,-0.6,-4.55,-0.4,-4.5,
-1.95,-4.2,-1.75,-4.25,-1.55,-4.22,-1.35,-4.28,-1.15,-4.22,-0.95,-4.28,-0.75,-4.22,-0.55,-4.28,-0.35,-4.22,-0.15,-4.25,-1.9,-4,-1.7,-4.02,-1.5,-4,-1.3,-4.02,-1.1,-4,-0.9,-4.02,-0.7,-4,-0.5,-4.02,-0.3,-4,-0.1,-4.02,0.1,-4.05,
-1.75,-3.78,-1.55,-3.75,-1.35,-3.78,-1.15,-3.75,-0.95,-3.78,-0.75,-3.75,-0.55,-3.78,-0.35,-3.75,-0.15,-3.78,0.05,-3.75,0.25,-3.78,-1.6,-3.55,-1.4,-3.52,-1.2,-3.55,-1,-3.52,-0.8,-3.55,-0.6,-3.52,-0.4,-3.55,-0.2,-3.52,0,-3.55,0.2,-3.52,0.45,-3.55,
-1.45,-3.3,-1.25,-3.28,-1.05,-3.3,-0.85,-3.28,-0.65,-3.3,-0.45,-3.28,-0.25,-3.3,-0.05,-3.28,0.15,-3.3,0.35,-3.28,0.55,-3.3,0.75,-3.25,-1.2,-3.05,-1,-3.05,-0.8,-3.08,-0.6,-3.05,-0.4,-3.08,-0.2,-3.05,0,-3.08,0.2,-3.05,0.4,-3.08,0.6,-3.05,0.8,-3.05,
-1.1,-2.85,-0.9,-2.82,-0.7,-2.85,-0.5,-2.82,-0.3,-2.85,-0.1,-2.82,0.1,-2.85,0.3,-2.82,0.5,-2.85,0.7,-2.82,0.9,-2.85,1.05,-2.85,-0.85,-2.62,-0.65,-2.6,-0.45,-2.62,-0.25,-2.6,-0.05,-2.62,0.15,-2.6,0.35,-2.62,0.55,-2.6,0.75,-2.62,0.95,-2.6,1.15,-2.62,1.3,-2.6,
-0.65,-2.35,-0.45,-2.38,-0.25,-2.35,-0.05,-2.38,0.15,-2.35,0.35,-2.38,0.55,-2.35,0.75,-2.38,0.95,-2.35,1.15,-2.38,1.35,-2.35,1.55,-2.3,-0.4,-2.15,-0.2,-2.15,0,-2.12,0.2,-2.15,0.4,-2.12,0.6,-2.15,0.8,-2.12,1,-2.15,1.2,-2.12,1.4,-2.15,1.65,-2.1,
-0.1,-1.9,0.1,-1.92,0.3,-1.88,0.5,-1.92,0.7,-1.88,0.9,-1.92,1.1,-1.88,1.3,-1.92,1.5,-1.88,1.7,-1.9,0.3,-1.68,0.5,-1.65,0.7,-1.68,0.9,-1.65,1.1,-1.68,1.3,-1.65,1.5,-1.68,1.95,-1.6,2.1,-1.7,
0.55,-1.45,0.75,-1.42,0.95,-1.45,1.15,-1.42,1.35,-1.45,1.55,-1.42,1.75,-1.45,1.95,-1.42,2.15,-1.4,0.7,-1.2,0.85,-1.15,1.05,-1.22,1.25,-1.18,1.45,-1.2,1.65,-1.15,1.85,-1.2,2.05,-1.15,2.2,-1.2,0.95,-0.95,1.3,-1,1.45,-0.98,1.6,-0.9,1.8,-0.95,1.95,-1,2.05,-0.9,1.7,-0.8];
const rightBlueFill=[-1.75,-5.12,-1.55,-5.15,-1.95,-4.9,-1.75,-4.88,-1.55,-4.9,-1.35,-4.88,-1.15,-4.9,-1.9,-4.62,-1.7,-4.63,-1.5,-4.65,-1.3,-4.63,-1.1,-4.65,-0.9,-4.63,-1.85,-4.38,-1.65,-4.38,-1.45,-4.4,-1.25,-4.38,-1.05,-4.4,-0.85,-4.38,-0.65,-4.4,-0.45,-4.38,
-1.8,-4.12,-1.6,-4.12,-1.4,-4.14,-1.2,-4.12,-1,-4.14,-0.8,-4.12,-0.6,-4.14,-0.4,-4.12,-0.2,-4.14,
-1.6,-3.88,-1.4,-3.9,-1.2,-3.88,-1,-3.9,-0.8,-3.88,-0.6,-3.9,-0.4,-3.88,-0.2,-3.9,0,-3.88,0.15,-3.9,
-1.45,-3.65,-1.25,-3.65,-1.05,-3.63,-0.85,-3.65,-0.65,-3.63,-0.45,-3.65,-0.25,-3.63,-0.05,-3.65,0.15,-3.63,0.35,-3.65,
-1.3,-3.42,-1.1,-3.42,-0.9,-3.4,-0.7,-3.42,-0.5,-3.4,-0.3,-3.42,-0.1,-3.4,0.1,-3.42,0.3,-3.4,0.5,-3.42,
-1.1,-3.18,-0.9,-3.18,-0.7,-3.16,-0.5,-3.18,-0.3,-3.16,-0.1,-3.18,0.1,-3.16,0.3,-3.18,0.5,-3.16,0.7,-3.15,
-1,-2.95,-0.8,-2.95,-0.6,-2.93,-0.4,-2.95,-0.2,-2.93,0,-2.95,0.2,-2.93,0.4,-2.95,0.6,-2.93,0.8,-2.95,1,-2.95,
-0.75,-2.73,-0.55,-2.72,-0.35,-2.74,-0.15,-2.72,0.05,-2.74,0.25,-2.72,0.45,-2.74,0.65,-2.72,0.85,-2.74,1.05,-2.72,1.2,-2.74,
-0.55,-2.48,-0.35,-2.5,-0.15,-2.48,0.05,-2.5,0.25,-2.48,0.45,-2.5,0.65,-2.48,0.85,-2.5,1.05,-2.48,1.25,-2.5,1.4,-2.48,
-0.3,-2.25,-0.1,-2.25,0.1,-2.27,0.3,-2.25,0.5,-2.27,0.7,-2.25,0.9,-2.27,1.1,-2.25,1.3,-2.27,1.5,-2.2,
0,-2.03,0.2,-2.03,0.4,-2.01,0.6,-2.03,0.8,-2.01,1,-2.03,1.2,-2.01,1.4,-2.03,1.6,-2,0.4,-1.78,0.6,-1.8,0.8,-1.78,1,-1.8,1.2,-1.78,1.4,-1.8,1.6,-1.78,1.8,-1.75,
0.65,-1.55,0.85,-1.56,1.05,-1.55,1.25,-1.56,1.45,-1.55,1.65,-1.56,1.85,-1.55,0.95,-1.3,1.15,-1.32,1.35,-1.3,1.55,-1.32,1.75,-1.3,1.95,-1.3,1.3,-1.1,1.5,-1.08,1.7,-1.08,1.9,-1.08];
const rightBlueExtra=[0.55,-3.55,0.7,-3.4,0.85,-3.3,1,-3.1,1.15,-2.95,1.35,-2.75,1.5,-2.55,1.6,-2.3,1.75,-2.1,1.85,-1.9,2,-1.8,2.2,-1.5,-2.3,-4.7,-2.2,-4.55,-2.3,-5,-2.15,-5.2,-2,-5.4,-1.65,-5.45,-1.45,-5.5,-1.05,-4.9,-0.85,-4.9,-0.7,-4.85,-0.5,-4.65,-0.3,-4.4,-0.1,-4.3,0.1,-4.2,0.3,-4.05,0.45,-3.85,-0.85,-2.4,-0.95,-2.5,-1.1,-2.7,-0.5,-2.25,-0.3,-2,-0.1,-1.75,0.1,-1.6,0.35,-1.4,0.5,-1.25,0.65,-1.05,1.1,-0.95,1.3,-0.8,1.5,-0.75,1.9,-0.75,2.15,-1];
const xTicks=[-4,-2,0,2,4];
const yTicksLeft=[-6,-4,-2,0,2,4,6,8];
const yTicksRight=[-6,-4,-2,0,2,4,6,8];
const xRangeLeft=[-4.78,5.03], yRangeLeft=[-6.86,8.99];
const xRangeRight=[-5.53,4.70], yRangeRight=[-7.01,8.21];
const orange='#f0810f', blue='#1c75b4', ink='#3d3d3d', spine='#484848';

function pts(a){const o=[];for(let i=0;i<a.length;i+=2)o.push({x:a[i],y:a[i+1]});return o;}
function frame(shift){return {id:'frame',
 afterLayout(c){c.titleBlock.left+=shift;c.titleBlock.right+=shift;},
 beforeDraw(c){c.ctx.letterSpacing='1px';},
 afterDatasetsDraw(c){const {left,top,right,bottom}=c.chartArea,g=c.ctx;g.save();g.strokeStyle=spine;g.lineWidth=1.8;g.strokeRect(left,top,right-left,bottom-top);g.restore();}};}
const fmt=v=>String(v).replace('-','−');
function make(id,title,oranges,blues,xr,yr,xt,yt,yW,padR,xH,xPad,shift){
 new Chart(document.getElementById(id),{type:'scatter',
  data:{datasets:[
   {data:pts(oranges),backgroundColor:orange,pointRadius:4.7,pointBorderWidth:0},
   {data:pts(blues),backgroundColor:blue,pointRadius:4.7,pointBorderWidth:0}]},
  plugins:[frame(shift)],
  options:{responsive:false,animation:false,devicePixelRatio:1,
   layout:{padding:{left:0,right:padR,top:0,bottom:0}},
   plugins:{legend:{display:false},tooltip:{enabled:false},
    title:{display:true,text:title,color:'#333',font:{family:'Liberation Sans',size:30,weight:'normal',lineHeight:1.2},padding:{top:5,bottom:28}}},
   scales:{
    x:{type:'linear',min:xr[0],max:xr[1],
     afterFit(s){s.height=xH;},
     afterBuildTicks(s){s.ticks=xt.map(v=>({value:v}));},
     grid:{drawOnChartArea:false,drawTicks:true,tickLength:8,tickColor:spine,tickWidth:1.6},
     border:{display:false},
     ticks:{maxRotation:0,autoSkip:false,padding:xPad,color:ink,font:{family:'DejaVu Sans',size:20},callback:fmt}},
    y:{type:'linear',min:yr[0],max:yr[1],
     afterFit(s){s.width=yW;},
     afterBuildTicks(s){s.ticks=yt.map(v=>({value:v}));},
     grid:{drawOnChartArea:false,drawTicks:true,tickLength:8,tickColor:spine,tickWidth:1.6},
     border:{display:false},
     ticks:{autoSkip:false,padding:10,color:ink,font:{family:'DejaVu Sans',size:20},callback:fmt}}
   }}});
}
make('a',titleLeft,leftOrange.concat(leftOrangeFill,leftOrangeExtra),leftBlue.concat(leftBlueFill,leftBlueExtra),xRangeLeft,yRangeLeft,xTicks,yTicksLeft,60,33,39,8,25.5);
make('b',titleRight,rightOrange.concat(rightOrangeFill,rightOrangeExtra),rightBlue.concat(rightBlueFill,rightBlueExtra),xRangeRight,yRangeRight,xTicks,yTicksRight,63,4,37,9,22.5);
</script></body></html>
